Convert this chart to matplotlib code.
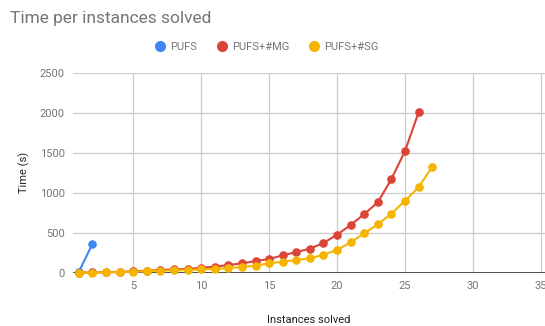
import matplotlib
matplotlib.use('Agg')
import matplotlib.pyplot as plt

plt.rcParams['font.family'] = ['Roboto', 'DejaVu Sans']

# data
pufs_x = [1, 2]
pufs_y = [10, 362]

mg_x = list(range(1, 27))
mg_y = [1, 3, 5, 10, 17, 25, 33, 42, 46, 62, 75, 96, 117, 146, 171, 217,
        258, 300, 371, 475, 596, 733, 880, 1171, 1521, 2005]

sg_x = list(range(1, 28))
sg_y = [1, 2, 4, 7, 12, 18, 25, 29, 33, 42, 46, 58, 71, 88, 117, 138,
        158, 180, 225, 284, 380, 492, 605, 738, 900, 1067, 1325]

series = [
    ('PUFS', pufs_x, pufs_y, '#4285F4'),
    ('PUFS+#MG', mg_x, mg_y, '#DB4437'),
    ('PUFS+#SG', sg_x, sg_y, '#F4B400'),
]

fig = plt.figure(figsize=(5.45, 3.26), dpi=100)
ax = fig.add_axes([0.134, 0.1635, 0.866, 0.6135])

for name, xs, ys, col in series:
    ax.plot(xs, ys, color=col, lw=1.5, marker='o', markersize=6.2,
            markeredgewidth=0, label=name, zorder=3, clip_on=False)

ax.set_xlim(0.57, 35.3)
ax.set_ylim(0, 2500)
ax.set_xticks([5, 10, 15, 20, 25, 30, 35])
ax.set_yticks([0, 500, 1000, 1500, 2000, 2500])
ax.grid(True, color='#cccccc', lw=0.9)
ax.set_axisbelow(True)
ax.axhline(0, color='#333333', lw=1.2, zorder=2)
for s in ax.spines.values():
    s.set_visible(False)
ax.tick_params(length=0, labelsize=8, labelcolor='#757575', pad=6)

ax.set_xlabel('Instances solved', fontsize=8, color='#222222', labelpad=17)
ax.set_ylabel('Time (s)', fontsize=8, color='#222222', labelpad=7)

fig.text(0.018, 0.93, 'Time per instances solved', fontsize=12.5,
         color='#757575', va='baseline')

fig.legend(loc='center', bbox_to_anchor=(0.49, 0.855), ncol=3, frameon=False,
           fontsize=8, labelcolor='#757575', handlelength=0.8,
           handletextpad=0.5, columnspacing=1.8)
leg = fig.legends[0]
for h in leg.legend_handles:
    h.set_linestyle('none')
    h.set_markersize(8)

fig.savefig('out.png', dpi=100)
